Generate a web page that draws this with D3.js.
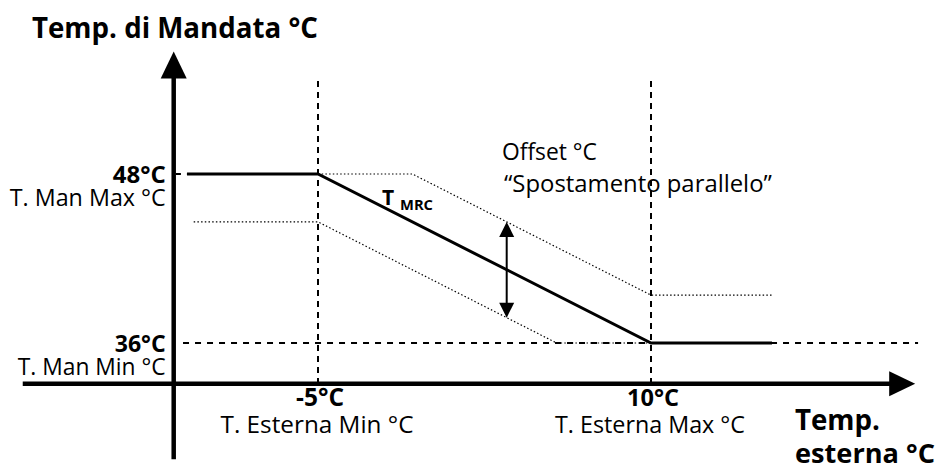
<!DOCTYPE html>
<html>
<head>
<meta charset="utf-8">
<script src="https://cdn.jsdelivr.net/npm/d3@7"></script>
<style>
  html, body { margin: 0; padding: 0; background: #fff; }
  svg { display: block; }
  text { font-family: "Open Sans", "Noto Sans", sans-serif; fill: #000; }
  .b { font-weight: 700; }
</style>
</head>
<body>
<svg id="chart" width="936" height="473"></svg>
<script>
// ---- data ----
const xTickValues = [-5, 10];
const xTickLabels = ["-5°C", "10°C"];
const xTickNames  = ["T. Esterna Min °C", "T. Esterna Max °C"];
const yTickValues = [36, 48];
const yTickLabels = ["36°C", "48°C"];
const yTickNames  = ["T. Man Min °C", "T. Man Max °C"];
// main climatic curve T_MRC (outside temp -> flow temp)
const mrcTemp  = [-10.9, -5, 10, 15.45];
const mrcFlow  = [48, 48, 36, 36];
// curve shifted up by offset
const upperTemp = [-5, -0.75, 10, 15.45];
const upperFlow = [48, 48, 39.4, 39.4];
// curve shifted down by offset
const lowerTemp = [-10.6, -5, 5.75, 10];
const lowerFlow = [44.6, 44.6, 36, 36];
// offset double arrow
const offsetArrowTemp = 3.5;
const offsetArrowFlow = [44.6, 37.8];
const titleY = "Temp. di Mandata °C";
const titleX = ["Temp.", "esterna °C"];
const offsetText = ["Offset °C", "“Spostamento parallelo”"];

// ---- scales ----
const x = d3.scaleLinear().domain([-5, 10]).range([318, 651]);
const y = d3.scaleLinear().domain([36, 48]).range([343, 174]);

const svg = d3.select("#chart");

// axis extents in data units
const yAxisAt = -11.5, xAxisAt = 33.1;
const yAxisMin = 27.75, yAxisMax = 56.7;
const xAxisMin = -18.3, xAxisMax = 21.9;

// helper to fit text width
function fit(t, w) {
  const node = t.node();
  const fs = parseFloat(t.attr("font-size"));
  const len = node.getComputedTextLength();
  if (len > 0) t.attr("font-size", (fs * w / len).toFixed(2));
  return t;
}

// ---- guide lines (dashed) ----
const g = svg.append("g");
xTickValues.forEach(v => {
  g.append("line")
    .attr("x1", x(v)).attr("x2", x(v))
    .attr("y1", y(54.6)).attr("y2", y(xAxisAt))
    .attr("stroke", "#000").attr("stroke-width", 2)
    .attr("stroke-dasharray", "6,5");
});
g.append("line")
  .attr("x1", x(-11.08)).attr("x2", x(22.03))
  .attr("y1", y(36)).attr("y2", y(36))
  .attr("stroke", "#000").attr("stroke-width", 2)
  .attr("stroke-dasharray", "6,6");
g.append("line")
  .attr("x1", x(-11.4)).attr("x2", x(-5))
  .attr("y1", y(48)).attr("y2", y(48))
  .attr("stroke", "#000").attr("stroke-width", 2)
  .attr("stroke-dasharray", "5,6");

// ---- dotted offset curves ----
const line = d3.line().x(d => x(d[0])).y(d => y(d[1]));
svg.append("path")
  .attr("d", line(upperTemp.map((t, i) => [t, upperFlow[i]])))
  .attr("fill", "none").attr("stroke", "#000").attr("stroke-width", 1.2)
  .attr("stroke-dasharray", "1.5,2.2");
svg.append("path")
  .attr("d", line(lowerTemp.map((t, i) => [t, lowerFlow[i]])))
  .attr("fill", "none").attr("stroke", "#000").attr("stroke-width", 1.2)
  .attr("stroke-dasharray", "1.5,2.2");

// ---- main curve ----
svg.append("path")
  .attr("d", line(mrcTemp.map((t, i) => [t, mrcFlow[i]])))
  .attr("fill", "none").attr("stroke", "#000").attr("stroke-width", 3)
  .attr("stroke-linejoin", "miter");

// ---- axes ----
svg.append("line")
  .attr("x1", x(yAxisAt)).attr("x2", x(yAxisAt))
  .attr("y1", y(yAxisMin)).attr("y2", y(yAxisMax) + 20)
  .attr("stroke", "#000").attr("stroke-width", 4.5);
svg.append("line")
  .attr("x1", x(xAxisMin)).attr("x2", x(xAxisMax) - 20)
  .attr("y1", y(xAxisAt)).attr("y2", y(xAxisAt))
  .attr("stroke", "#000").attr("stroke-width", 4.5);
// arrowheads
{
  const ax = x(yAxisAt), ty = y(yAxisMax);
  svg.append("path").attr("d", `M${ax},${ty} L${ax + 13},${ty + 27} L${ax - 13},${ty + 27} Z`).attr("fill", "#000");
  const ay = y(xAxisAt), tx = x(xAxisMax);
  svg.append("path").attr("d", `M${tx},${ay} L${tx - 26},${ay - 12.5} L${tx - 26},${ay + 12.5} Z`).attr("fill", "#000");
}

// ---- offset double arrow ----
{
  const ax = x(offsetArrowTemp);
  const yt = y(offsetArrowFlow[0]), yb = y(offsetArrowFlow[1]);
  svg.append("line").attr("x1", ax).attr("x2", ax).attr("y1", yt + 10).attr("y2", yb - 10)
    .attr("stroke", "#000").attr("stroke-width", 2);
  svg.append("path").attr("d", `M${ax},${yt} L${ax + 7.5},${yt + 15} L${ax - 7.5},${yt + 15} Z`).attr("fill", "#000");
  svg.append("path").attr("d", `M${ax},${yb} L${ax + 7.5},${yb - 15} L${ax - 7.5},${yb - 15} Z`).attr("fill", "#000");
}

// ---- texts ----
fit(svg.append("text").attr("class", "b").attr("x", 32).attr("y", 38).attr("font-size", 26).text(titleY), 286);

// stacked two-line labels as single text elements with tspans
const yLabW = [51, 53], yNameW = [148, 156];
yTickValues.forEach((v, i) => {
  const t = svg.append("text").attr("text-anchor", "end");
  fit(t.append("tspan").attr("class", "b")
    .attr("x", x(yAxisAt) - 8).attr("y", y(v) + 9).attr("font-size", 20).text(yTickLabels[i]), yLabW[i]);
  fit(t.append("tspan")
    .attr("x", x(yAxisAt) - 8).attr("y", y(v) + 32).attr("font-size", 20).text(yTickNames[i]), yNameW[i]);
});

const xLabW = [48, 52], xNameW = [193, 190];
xTickValues.forEach((v, i) => {
  const t = svg.append("text").attr("text-anchor", "middle");
  fit(t.append("tspan").attr("class", "b")
    .attr("x", x(v) + 2).attr("y", y(xAxisAt) + 22).attr("font-size", 20).text(xTickLabels[i]), xLabW[i]);
  fit(t.append("tspan")
    .attr("x", x(v) - 1).attr("y", y(xAxisAt) + 49).attr("font-size", 20).text(xTickNames[i]), xNameW[i]);
});

{
  const t = svg.append("text").attr("class", "b");
  fit(t.append("tspan").attr("x", 795).attr("y", 430).attr("font-size", 26).text(titleX[0]), 85);
  fit(t.append("tspan").attr("x", 795).attr("y", 463).attr("font-size", 26).text(titleX[1]), 140);
}

{
  const t = svg.append("text");
  fit(t.append("tspan").attr("x", 502).attr("y", 160).attr("font-size", 20).text(offsetText[0]), 95);
  fit(t.append("tspan").attr("x", 504).attr("y", 192).attr("font-size", 20).text(offsetText[1]), 268);
}

// T_MRC label
{
  const t = svg.append("text").attr("class", "b");
  t.append("tspan").attr("x", 382).attr("y", 205).attr("font-size", 21).text("T");
  fit(t.append("tspan").attr("x", 400).attr("y", 210).attr("font-size", 14).text("MRC"), 33);
}
</script>
</body>
</html>
